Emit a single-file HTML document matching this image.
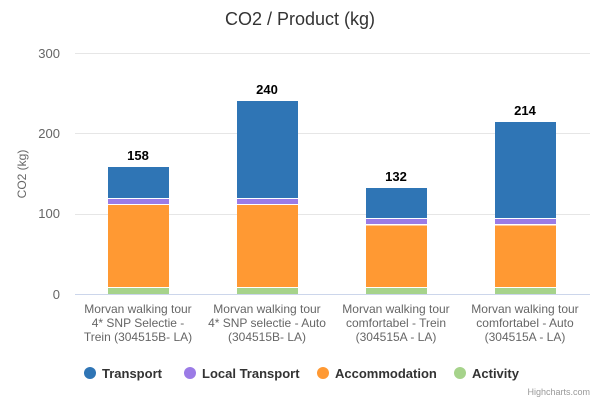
<!DOCTYPE html><html><head><style>body{margin:0;background:#fff}svg{display:block}text{font-family:"Liberation Sans","DejaVu Sans",sans-serif}</style></head><body>
<svg width="600" height="400" xmlns="http://www.w3.org/2000/svg">
<text x="300" y="25" text-anchor="middle" font-size="18" fill="#333">CO2 / Product (kg)</text>
<g stroke="#e6e6e6" stroke-width="1">
<line x1="75" x2="590" y1="53.5" y2="53.5"/><line x1="75" x2="590" y1="133.5" y2="133.5"/><line x1="75" x2="590" y1="214.5" y2="214.5"/></g>
<line x1="75" x2="590" y1="294.5" y2="294.5" stroke="#ccd6eb"/>
<g font-size="13" fill="#666" text-anchor="end"><text x="60" y="58">300</text><text x="60" y="138">200</text><text x="60" y="218">100</text><text x="60" y="299">0</text></g>
<text transform="translate(26,174) rotate(-90)" text-anchor="middle" font-size="12" fill="#666">CO2 (kg)</text>
<g>
<rect x="108" y="167" width="61" height="31" fill="#2f75b5"/><rect x="108" y="199" width="61" height="5" fill="#9b7be6"/><rect x="108" y="205" width="61" height="82" fill="#ff9933"/><rect x="108" y="288" width="61" height="6" fill="#a6d38b"/>
<rect x="237" y="101" width="61" height="97" fill="#2f75b5"/><rect x="237" y="199" width="61" height="5" fill="#9b7be6"/><rect x="237" y="205" width="61" height="82" fill="#ff9933"/><rect x="237" y="288" width="61" height="6" fill="#a6d38b"/>
<rect x="366" y="188" width="61" height="30" fill="#2f75b5"/><rect x="366" y="219" width="61" height="5" fill="#9b7be6"/><rect x="366" y="225.5" width="61" height="61.5" fill="#ff9933"/><rect x="366" y="288" width="61" height="6" fill="#a6d38b"/>
<rect x="495" y="122" width="61" height="96" fill="#2f75b5"/><rect x="495" y="219" width="61" height="5" fill="#9b7be6"/><rect x="495" y="225.5" width="61" height="61.5" fill="#ff9933"/><rect x="495" y="288" width="61" height="6" fill="#a6d38b"/>
</g>
<g font-size="13" font-weight="bold" fill="#000" text-anchor="middle" stroke="#fff" stroke-width="3" paint-order="stroke">
<text x="138" y="160">158</text><text x="267" y="94">240</text><text x="396" y="181">132</text><text x="525" y="115">214</text></g>
<g font-size="12" fill="#666" text-anchor="middle">
<text x="138" y="313">Morvan walking tour</text><text x="138" y="327">4* SNP Selectie -</text><text x="138" y="341">Trein (304515B- LA)</text>
<text x="267" y="313">Morvan walking tour</text><text x="267" y="327">4* SNP selectie - Auto</text><text x="267" y="341">(304515B- LA)</text>
<text x="396" y="313">Morvan walking tour</text><text x="396" y="327">comfortabel - Trein</text><text x="396" y="341">(304515A - LA)</text>
<text x="525" y="313">Morvan walking tour</text><text x="525" y="327">comfortabel - Auto</text><text x="525" y="341">(304515A - LA)</text></g>
<g font-size="13" font-weight="bold" fill="#333">
<circle cx="90" cy="373" r="6" fill="#2f75b5"/><text x="102" y="378">Transport</text>
<circle cx="190" cy="373" r="6" fill="#9b7be6"/><text x="202" y="378">Local Transport</text>
<circle cx="323" cy="373" r="6" fill="#ff9933"/><text x="335" y="378">Accommodation</text>
<circle cx="460" cy="373" r="6" fill="#a6d38b"/><text x="472" y="378">Activity</text></g>
<text x="590" y="395" text-anchor="end" font-size="9" fill="#999">Highcharts.com</text>
</svg></body></html>
